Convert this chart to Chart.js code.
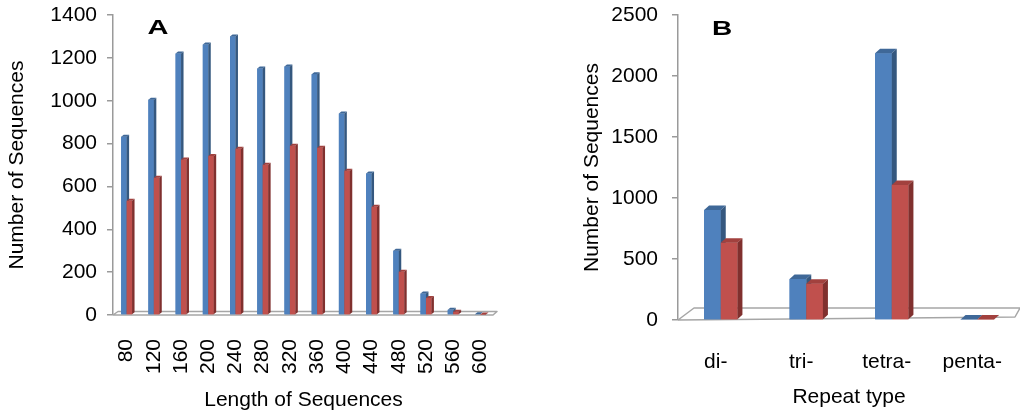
<!DOCTYPE html>
<html>
<head>
<meta charset="utf-8">
<script src="https://cdn.jsdelivr.net/npm/chart.js@4/dist/chart.umd.min.js"></script>
<style>
  html, body { margin: 0; padding: 0; background: #ffffff; }
  #wrap { position: relative; width: 1020px; height: 416px; overflow: hidden; }
  .panel { position: absolute; top: 0; width: 510px; height: 416px; }
  #panelA { left: 0; }
  #panelB { left: 510px; }
</style>
</head>
<body>
<div id="wrap">
  <div class="panel" id="panelA"><canvas id="chartA" width="510" height="416"></canvas></div>
  <div class="panel" id="panelB"><canvas id="chartB" width="510" height="416"></canvas></div>
</div>
<script>
// Panel A: sequence counts by length
const lengthLabels = ['80', '120', '160', '200', '240', '280', '320', '360', '400', '440', '480', '520', '560', '600'];
const lengthSeries1 = [832, 1005, 1220, 1262, 1300, 1150, 1160, 1124, 940, 660, 300, 100, 24, 3];
const lengthSeries2 = [533, 641, 726, 742, 776, 701, 790, 781, 673, 505, 202, 79, 15, 2];
const lengthTicks = [0, 200, 400, 600, 800, 1000, 1200, 1400];

// Panel B: sequence counts by repeat type
const repeatLabels = ['di-', 'tri-', 'tetra-', 'penta-'];
const repeatSeries1 = [902, 336, 2186, 5];
const repeatSeries2 = [634, 298, 1107, 5];
const repeatTicks = [0, 500, 1000, 1500, 2000, 2500];

const FONT = "'Liberation Sans', Arial, sans-serif";
const BLUE = { front: '#4F81BD', top: '#3F6898', side: '#35587F' };
const RED  = { front: '#C0504D', top: '#A2413E', side: '#80302E' };
const AXIS_GREY = '#9A9A9A';

// Redraws each bar as a small extruded block: front face, top face, right side face.
// Bars are painted category by category in dataset order so neighbours overlap correctly.
const bar3d = {
  id: 'bar3d',
  afterDatasetsDraw(chart, args, opts) {
    const ctx = chart.ctx;
    const dx = opts.dx, dy = opts.dy;
    const n = chart.data.labels.length;
    ctx.save();
    for (let i = 0; i < n; i++) {
      chart.data.datasets.forEach((ds, d) => {
        const el = chart.getDatasetMeta(d).data[i];
        if (!el) return;
        const l = el.x - el.width / 2, r = el.x + el.width / 2;
        const t = el.y, b = el.base;
        ctx.fillStyle = ds.backgroundColor;
        ctx.fillRect(l, t, r - l, b - t);
        ctx.fillStyle = ds.topColor;
        ctx.beginPath();
        ctx.moveTo(l, t); ctx.lineTo(l + dx, t - dy); ctx.lineTo(r + dx, t - dy); ctx.lineTo(r, t);
        ctx.closePath(); ctx.fill();
        ctx.fillStyle = ds.sideColor;
        ctx.beginPath();
        ctx.moveTo(r, t); ctx.lineTo(r + dx, t - dy); ctx.lineTo(r + dx, b - dy); ctx.lineTo(r, b);
        ctx.closePath(); ctx.fill();
      });
    }
    ctx.restore();
  }
};

// Thin perspective floor under the bars.
const floor3d = {
  id: 'floor3d',
  beforeDatasetsDraw(chart, args, opts) {
    const { ctx, chartArea: a } = chart;
    const y0 = a.bottom, y1 = a.bottom - opts.depthY;
    ctx.save();
    ctx.strokeStyle = opts.color;
    ctx.lineWidth = opts.lineWidth;
    ctx.lineJoin = 'round';
    ctx.beginPath();
    ctx.moveTo(a.left, y0);
    ctx.lineTo(a.left + opts.depthX, y1);
    ctx.lineTo(a.right + opts.backExtra, y1);
    ctx.lineTo(a.right + opts.backExtra - opts.endX, y0 - opts.endY);
    ctx.lineTo(a.left, y0);
    ctx.stroke();
    ctx.restore();
  }
};

// Bold panel letter.
const panelTag = {
  id: 'panelTag',
  afterDraw(chart, args, opts) {
    const ctx = chart.ctx;
    ctx.save();
    ctx.translate(opts.x, opts.y);
    ctx.scale(opts.stretch, 1);
    ctx.font = 'bold 20px ' + FONT;
    ctx.fillStyle = '#000';
    ctx.textAlign = 'center';
    ctx.textBaseline = 'middle';
    ctx.fillText(opts.text, 0, 0);
    ctx.restore();
  }
};

function makeDatasets(s1, s2) {
  return [
    { label: 'Series 1', data: s1, backgroundColor: BLUE.front, topColor: BLUE.top, sideColor: BLUE.side },
    { label: 'Series 2', data: s2, backgroundColor: RED.front, topColor: RED.top, sideColor: RED.side }
  ];
}

function textFont() { return { family: FONT, size: 21 }; }

function makeOptions(cfg) {
  return {
    responsive: false,
    animation: false,
    devicePixelRatio: 1,
    layout: { padding: cfg.padding },
    datasets: { bar: { categoryPercentage: cfg.catPct, barPercentage: 1 } },
    plugins: {
      legend: { display: false },
      tooltip: { enabled: false },
      bar3d: cfg.bar3d,
      floor3d: cfg.floor,
      panelTag: cfg.tag
    },
    scales: {
      x: {
        grid: { display: false },
        border: { display: false },
        ticks: Object.assign({ autoSkip: false, color: '#000', font: textFont() }, cfg.xTicks),
        title: { display: true, text: cfg.xTitle, color: '#000', font: textFont(), padding: { top: 0, bottom: cfg.xTitlePad } },
        afterFit(s) {
          s.height = cfg.xHeight;
          s.paddingLeft = 0; s.paddingRight = 0;
        }
      },
      y: {
        min: cfg.yTicks[0],
        max: cfg.yTicks[cfg.yTicks.length - 1],
        afterBuildTicks(s) { s.ticks = cfg.yTicks.map(v => ({ value: v })); },
        grid: { drawOnChartArea: false, drawTicks: true, tickLength: 6, color: AXIS_GREY, lineWidth: 1.5 },
        border: { color: AXIS_GREY, width: 1.5 },
        ticks: { padding: cfg.yTickPad, color: '#000', font: textFont(), callback: v => String(v) },
        title: { display: true, text: 'Number of Sequences', color: '#000', font: textFont(), padding: { top: cfg.yTitlePad, bottom: 0 } },
        afterFit(s) {
          s.width = cfg.yWidth;
          s.paddingTop = 0; s.paddingBottom = 0;
        }
      }
    }
  };
}

new Chart(document.getElementById('chartA'), {
  type: 'bar',
  data: { labels: lengthLabels, datasets: makeDatasets(lengthSeries1, lengthSeries2) },
  options: makeOptions({
    padding: { left: 0, right: 16, top: 15, bottom: 0 },
    catPct: 0.4,
    bar3d: { dx: 2.5, dy: 2 },
    floor: { depthX: 5, depthY: 3.5, backExtra: 3, endX: 4, endY: 0, color: '#A6A6A6', lineWidth: 1.5 },
    tag: { text: 'A', x: 158, y: 28, stretch: 1.45 },
    xTicks: { minRotation: 90, maxRotation: 90, padding: 16 },
    xTitle: 'Length of Sequences',
    xTitlePad: 3,
    xHeight: 101,
    yTicks: lengthTicks,
    yTickPad: 10,
    yTitlePad: 5,
    yWidth: 113
  }),
  plugins: [floor3d, bar3d, panelTag]
});

new Chart(document.getElementById('chartB'), {
  type: 'bar',
  data: { labels: repeatLabels, datasets: makeDatasets(repeatSeries1, repeatSeries2) },
  options: makeOptions({
    padding: { left: 60, right: 0, top: 15, bottom: 0 },
    catPct: 0.39,
    bar3d: { dx: 5, dy: 4.5 },
    floor: { depthX: 16, depthY: 12, backExtra: 0, endX: 5, endY: 3, color: '#A6A6A6', lineWidth: 1.5 },
    tag: { text: 'B', x: 212, y: 29, stretch: 1.4 },
    xTicks: { padding: 22, labelOffset: -5 },
    xTitle: 'Repeat type',
    xTitlePad: 6,
    xHeight: 96,
    yTicks: repeatTicks,
    yTickPad: 14,
    yTitlePad: 10,
    yWidth: 108
  }),
  plugins: [floor3d, bar3d, panelTag]
});
</script>
</body>
</html>
